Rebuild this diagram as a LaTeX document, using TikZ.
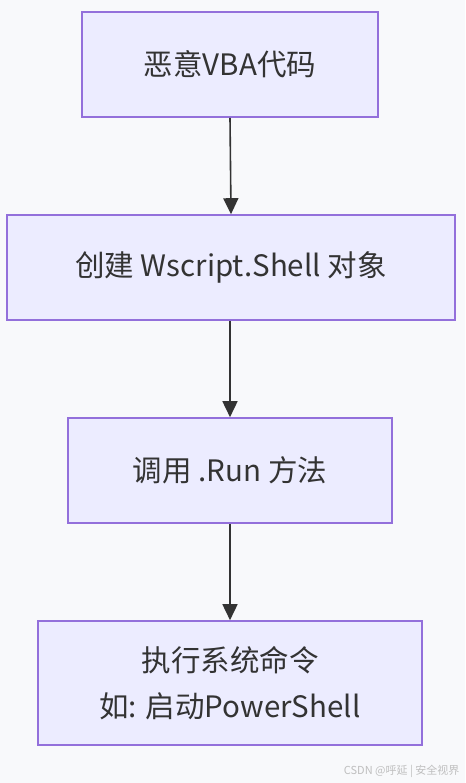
\documentclass[tikz,border=0pt]{standalone}
\usepackage{fontspec}
\setmainfont{Noto Sans CJK SC}
\usetikzlibrary{arrows.meta}
\definecolor{bg}{HTML}{F8F9FB}
\definecolor{boxfill}{HTML}{ECECFF}
\definecolor{boxline}{HTML}{9370DB}
\definecolor{arr}{HTML}{333333}
\begin{document}
\begin{tikzpicture}[x=1pt,y=-1pt,
  box/.style={draw=boxline,fill=boxfill,line width=1.6pt,inner sep=0pt,
    font=\fontsize{29.5}{46}\selectfont,text=arr,align=center},
  link/.style={draw=arr,line width=1.6pt,-{Triangle[length=16pt,width=15pt]}}]
\fill[bg] (0,0) rectangle (465,783);
\useasboundingbox (0,0) rectangle (465,783);
\node[box,minimum width=296pt,minimum height=105pt] (a) at (230,64.5) {恶意VBA代码};
\node[box,minimum width=448pt,minimum height=105pt] (b) at (231,267.5) {创建 Wscript.Shell 对象};
\node[box,minimum width=324pt,minimum height=105pt] (c) at (230,470.5) {调用 .Run 方法};
\node[box,minimum width=384pt,minimum height=124pt] (d) at (230,683) {执行系统命令\\如: 启动PowerShell};
\draw[link] (a.south) -- (b.north);
\draw[link] (c.north |- b.south) -- (c.north);
\draw[link] (c.south) -- (d.north);
\node[font=\fontsize{11}{13}\selectfont,text=black!25,anchor=east] (wm) at (463,771) {CSDN @呼延 | 安全视界};
\end{tikzpicture}
\end{document}
